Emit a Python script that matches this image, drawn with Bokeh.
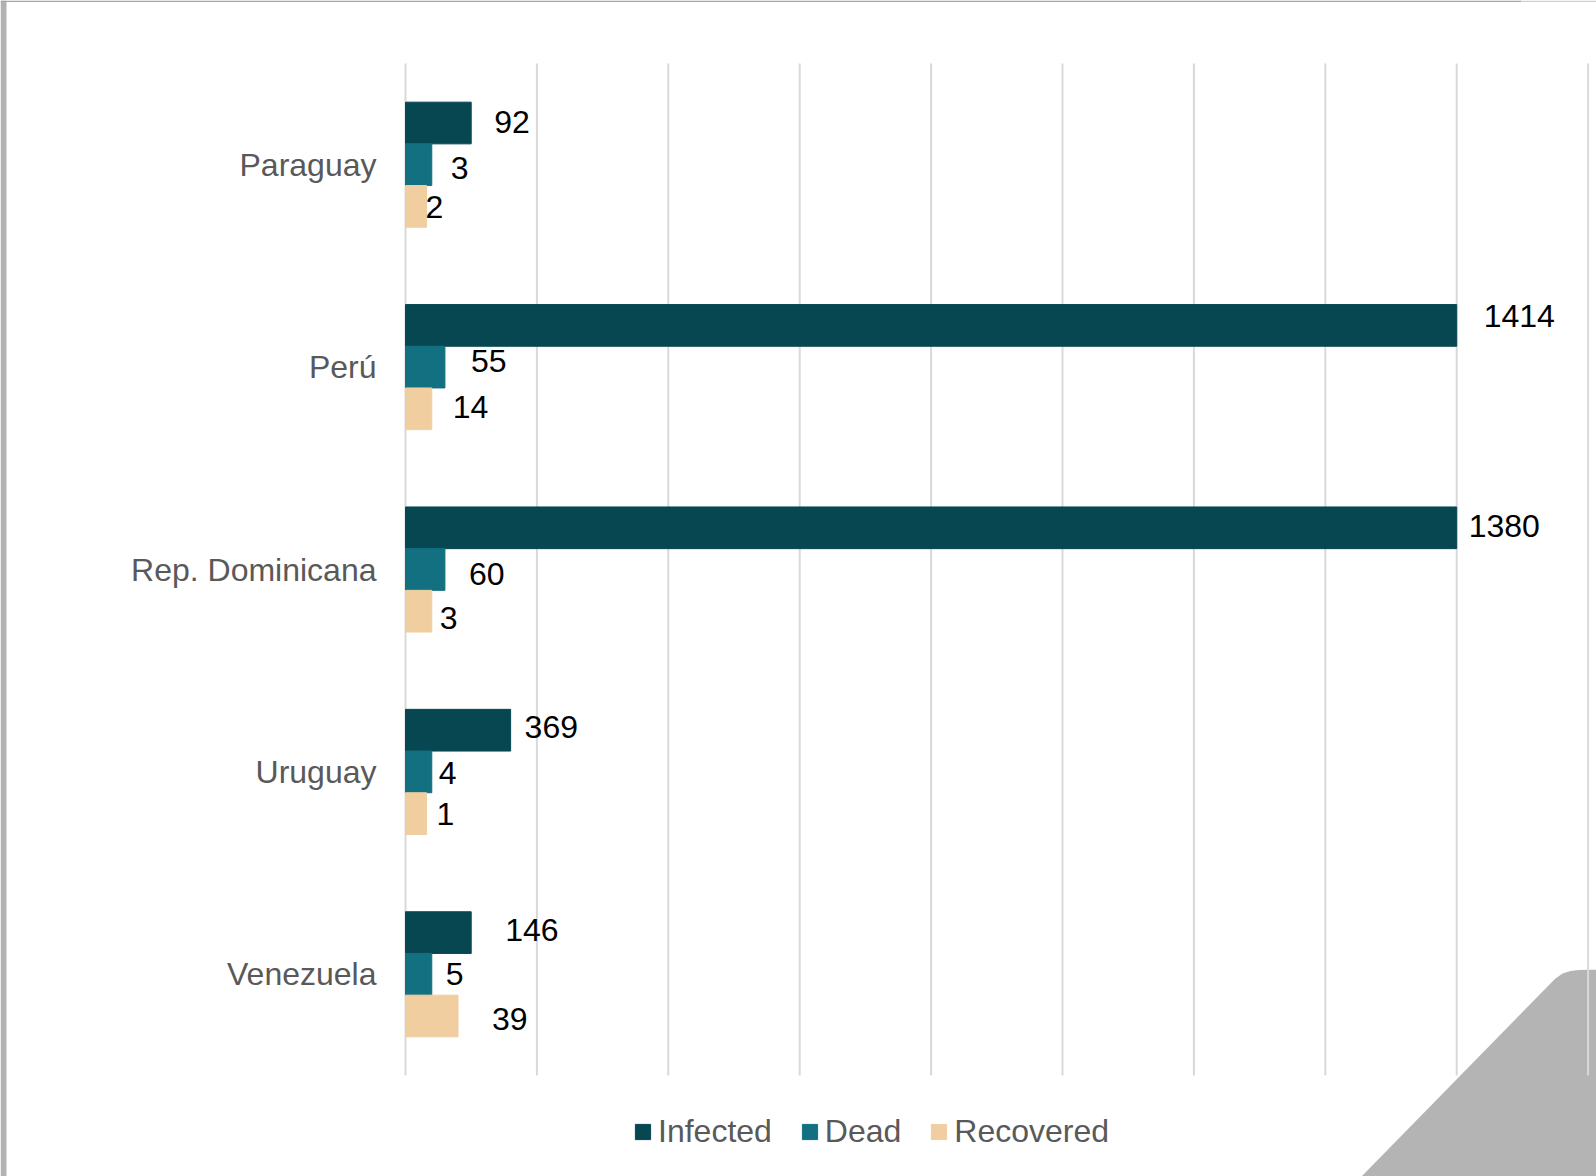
from bokeh.plotting import figure
from bokeh.models import (ColumnDataSource, Range1d, Legend, LegendItem,
                          PolyAnnotation, BoxAnnotation)
from bokeh.core.properties import value
from bokeh.embed import file_html
from bokeh.resources import INLINE

# ---------------- data ----------------
countries = ["Paraguay", "Perú", "Rep. Dominicana", "Uruguay", "Venezuela"]
infected = [92, 1414, 1380, 369, 146]
dead = [3, 55, 60, 4, 5]
recovered = [2, 14, 3, 1, 39]
# bar lengths as drawn in the picture (in gridline units)
infected_bar = [0.5, 8.0, 8.0, 0.8, 0.5]
dead_bar = [0.2, 0.3, 0.3, 0.2, 0.2]
recovered_bar = [0.16, 0.2, 0.2, 0.16, 0.4]
grid_ticks = list(range(10))

# ---------------- layout of data labels (pixel nudges) ----------------
inf_dx = [23, 27, 12, 14, 34]
inf_dy = [-1, -9, -2, -3, -3]
dead_dx = [19, 26, 24, 7, 14]
dead_dy = [3, -6, 4, 1, 0]
rec_dx = [-1, 21, 8, 10, 34]
rec_dy = [1, -2, 7, 0, 3]

COL_INF = "#074751"
COL_DEAD = "#127080"
COL_REC = "#f0cea0"
TXT = "#595959"
FONT = "Liberation Sans"
FS = "32px"

n = len(countries)
ypos = [n - 1 - i for i in range(n)]          # Paraguay on top
bh = 0.206

src = ColumnDataSource(dict(
    country=countries, y=ypos,
    y_inf=[v + bh for v in ypos], y_dead=ypos, y_rec=[v - bh for v in ypos],
    infected_bar=infected_bar, dead_bar=dead_bar, recovered_bar=recovered_bar,
    inf_lbl=[str(v) for v in infected], dead_lbl=[str(v) for v in dead],
    rec_lbl=[str(v) for v in recovered],
    inf_dx=inf_dx, inf_dy=inf_dy, dead_dx=dead_dx, dead_dy=dead_dy,
    rec_dx=rec_dx, rec_dy=rec_dy,
))

W, H = 1596, 1176
unit = 131.4          # px per grid step
pitch = 202.4         # px per category
x0_px = 405           # where value 0 sits
top_px, bot_px = 63, 1075

x_range = Range1d(-x0_px / unit, (W - x0_px) / unit)
y_range = Range1d(-0.5 - (H - bot_px) / pitch, n - 0.5 + top_px / pitch)

p = figure(width=W, height=H, output_backend="svg", toolbar_location=None,
           x_range=x_range, y_range=y_range, x_axis_type=None, y_axis_type=None,
           min_border=0)
p.outline_line_color = None
p.background_fill_color = "white"
p.border_fill_color = "white"

# decorations (page border and page-curl corner)
p.add_layout(BoxAnnotation(left=0, right=6, top=0, bottom=H,
                           left_units="canvas", right_units="canvas",
                           top_units="canvas", bottom_units="canvas",
                           fill_color="#b2b2b2", fill_alpha=1, line_color=None,
                           level="image"))
p.add_layout(BoxAnnotation(left=0, right=1521, top=0, bottom=1.5,
                           left_units="canvas", right_units="canvas",
                           top_units="canvas", bottom_units="canvas",
                           fill_color="#a6a6a6", fill_alpha=1, line_color=None,
                           level="image"))
p.add_layout(BoxAnnotation(left=1521, right=W, top=0, bottom=1.5,
                           left_units="canvas", right_units="canvas",
                           top_units="canvas", bottom_units="canvas",
                           fill_color="#d0d0d0", fill_alpha=1, line_color=None,
                           level="image"))
p.add_layout(PolyAnnotation(
    xs=[1361, 1550, 1555, 1562, 1570, 1578, 1590, 1600, 1600],
    ys=[1176, 983, 978, 973, 970.5, 969.5, 969.3, 969.3, 1180],
    xs_units="canvas", ys_units="canvas",
    fill_color="#b4b4b4", fill_alpha=1, line_color=None, level="image"))

# vertical gridlines
p.segment(x0=grid_ticks, x1=grid_ticks, y0=-0.5, y1=n - 0.5,
          line_color="#d9d9d9", line_width=2)

# bars
r_inf = p.hbar(y="y_inf", right="infected_bar", left=0, height=bh, source=src,
               fill_color=COL_INF, line_color=COL_INF)
r_dead = p.hbar(y="y_dead", right="dead_bar", left=0, height=bh, source=src,
                fill_color=COL_DEAD, line_color=COL_DEAD)
r_rec = p.hbar(y="y_rec", right="recovered_bar", left=0, height=bh, source=src,
               fill_color=COL_REC, line_color=COL_REC)

# data labels
for xcol, ycol, lbl, dx, dy in [("infected_bar", "y_inf", "inf_lbl", "inf_dx", "inf_dy"),
                                ("dead_bar", "y_dead", "dead_lbl", "dead_dx", "dead_dy"),
                                ("recovered_bar", "y_rec", "rec_lbl", "rec_dx", "rec_dy")]:
    p.text(x=xcol, y=ycol, text=lbl, source=src,
           x_offset=dx, y_offset=dy, text_align="left", text_baseline="middle",
           text_font=value(FONT), text_font_size=value(FS), text_color="black")

# category labels
p.text(x=0, y="y", text="country", source=src, x_offset=-29,
       text_align="right", text_baseline="middle",
       text_font=value(FONT), text_font_size=value(FS), text_color=TXT)

legend = Legend(items=[LegendItem(label="Infected", renderers=[r_inf]),
                       LegendItem(label="Dead", renderers=[r_dead]),
                       LegendItem(label="Recovered", renderers=[r_rec])],
                location=(633, 26), orientation="horizontal",
                border_line_color=None, background_fill_alpha=0,
                padding=0, margin=0, spacing=28, label_standoff=6,
                glyph_width=19, glyph_height=19,
                label_text_font=FONT, label_text_font_size=FS,
                label_text_color=TXT)
p.add_layout(legend)

open("out.html", "w").write(file_html(p, INLINE))
